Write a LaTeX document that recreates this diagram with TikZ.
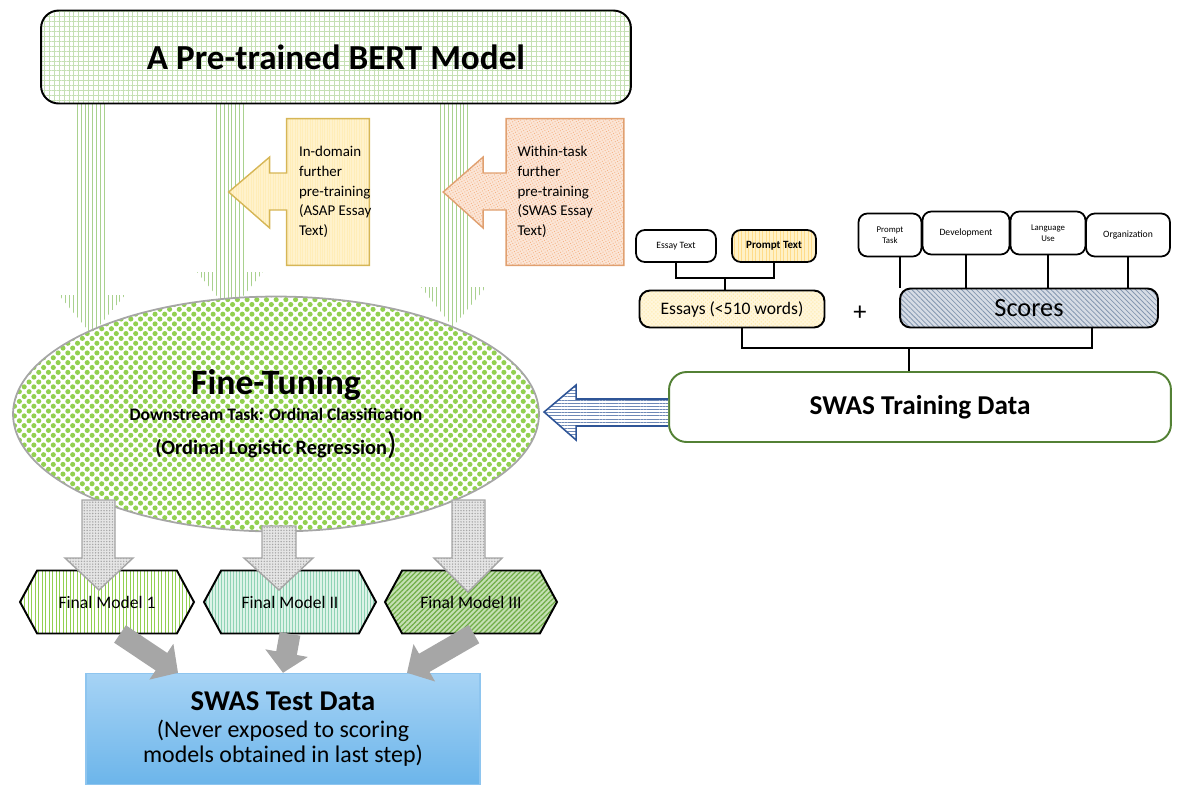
\documentclass[tikz,border=0pt]{standalone}
\usepackage{fontspec}
\setmainfont{Carlito}
\usetikzlibrary{positioning,calc,arrows.meta,patterns.meta,shapes.geometric,shapes.symbols,backgrounds}

\definecolor{gridgreen}{HTML}{C5E0B4}
\definecolor{stripegreen}{HTML}{A9D18E}
\definecolor{leafgreen}{HTML}{92D050}
\definecolor{darkleaf}{HTML}{70AD47}
\definecolor{mintfill}{HTML}{DDF3E8}
\definecolor{mintline}{HTML}{8FD3B5}
\definecolor{paleyellow}{HTML}{FFF2CC}
\definecolor{goldline}{HTML}{D6B656}
\definecolor{butter}{HTML}{FFE699}
\definecolor{palepeach}{HTML}{FBE5D6}
\definecolor{peachdot}{HTML}{F4B183}
\definecolor{peachline}{HTML}{E0A070}
\definecolor{slatefill}{HTML}{D6DCE5}
\definecolor{slateline}{HTML}{8497B0}
\definecolor{navyline}{HTML}{2F5597}
\definecolor{forest}{HTML}{538135}
\definecolor{skytop}{HTML}{A6D3F5}
\definecolor{skybottom}{HTML}{6CB5EA}
\definecolor{skyline}{HTML}{8EC5EF}
\definecolor{stone}{HTML}{A6A6A6}

\begin{document}
\begin{tikzpicture}[
    x=0.02cm, y=-0.02cm,
    rbox/.style={rectangle, rounded corners=6pt, draw=black, line width=1.1pt, align=center, inner sep=0pt},
    tinybox/.style={rbox, rounded corners=5pt, line width=1pt, minimum height=0.86cm, font=\fontsize{5.5}{6.4}\selectfont},
    brk/.style={line width=1.3pt},
    greenarrow/.style={pattern={Lines[angle=90, distance=2.2pt, line width=0.5pt]}, pattern color=stripegreen},
    callout/.style={align=left, inner sep=0pt, anchor=north west, font=\fontsize{8.5}{11.3}\selectfont},
    grayarrow/.style={draw=stone, line width=0.8pt, preaction={fill=gray!20}, pattern={Dots[distance=1.6pt, radius=0.45pt]}, pattern color=gray!70},
    hexa/.style={signal, signal to=east and west, signal pointer angle=123, draw=black, line width=1.1pt, minimum width=3.44cm, minimum height=1.26cm, inner sep=0pt, font=\fontsize{10}{12}\selectfont},
    link/.style={draw=stone, line width=0.42cm, -{Triangle[length=0.4cm, width=0.84cm]}}
]
\useasboundingbox (0,0) rectangle (1177,789);

% Nodes
\node (bert) [rbox, rounded corners=10pt, minimum width=11.8cm, minimum height=1.86cm,
    preaction={fill=white}, pattern={Hatch[distance=2.8pt, line width=0.4pt]}, pattern color=gridgreen,
    font=\fontsize{20}{24}\selectfont\bfseries] at (336,57) {A Pre-trained BERT Model};

\node (indomain) [minimum width=1.64cm, minimum height=2.92cm] at (328,192) {};
\node (withintask) [minimum width=2.34cm, minimum height=2.92cm] at (565,192) {};

\node (tune) [ellipse, draw=stone, line width=1pt, minimum width=10.52cm, minimum height=4.7cm,
    preaction={fill=white}, pattern={Dots[angle=45, distance=3.9pt, radius=1.45pt]}, pattern color=leafgreen,
    align=center, inner sep=0pt] at (276,414)
    {{\fontsize{20.3}{23}\selectfont\bfseries Fine-Tuning}\\[3pt]
     {\fontsize{10}{11}\selectfont\bfseries Downstream Task: Ordinal Classification}\\[5pt]
     {\fontsize{11.6}{13}\selectfont\bfseries (Ordinal Logistic Regression}{\fontsize{18}{13}\selectfont )}};

\node (etext) [tinybox, minimum width=1.6cm, minimum height=0.64cm] at (676,246) {Essay Text};
\node (ptext) [tinybox, minimum width=1.68cm, minimum height=0.64cm, preaction={fill=butter!55},
    pattern={Lines[angle=90, distance=2pt, line width=0.45pt]}, pattern color=butter!90!orange,
    font=\fontsize{6.3}{7}\selectfont\bfseries] at (774,246) {Prompt Text};
\node (essays) [rbox, minimum width=3.7cm, minimum height=0.74cm, preaction={fill=paleyellow!70},
    pattern={Dots[angle=45, distance=1.6pt, radius=0.4pt]}, pattern color=butter,
    font=\fontsize{10}{12}\selectfont] at (732,309) {Essays (<510 words)};
\node (plus) [font=\fontsize{15}{16}\selectfont] at (860,313) {+};

\node (ptask) [tinybox, minimum width=1.26cm, font=\fontsize{5}{6}\selectfont] at (890,235) {Prompt\\Task};
\node (dev) [tinybox, minimum width=1.74cm] at (966,233) {Development};
\node (lang) [tinybox, minimum width=1.5cm, font=\fontsize{5}{6}\selectfont] at (1048,233) {Language\\Use};
\node (org) [tinybox, minimum width=1.68cm] at (1128,235) {Organization};
\node (scores) [rbox, minimum width=5.16cm, minimum height=0.78cm, preaction={fill=slatefill},
    pattern={Lines[angle=-45, distance=2pt, line width=0.45pt]}, pattern color=slateline,
    font=\fontsize{15}{17}\selectfont] at (1029,308) {Scores};

\node (train) [rbox, rounded corners=10pt, draw=forest, minimum width=10.04cm, minimum height=1.4cm,
    fill=white, font=\fontsize{15.5}{18}\selectfont\bfseries] at (920,407) {SWAS Training Data};

\node (fm1) [hexa, minimum width=3.48cm, preaction={fill=white},
    pattern={Lines[angle=90, distance=2pt, line width=0.55pt]}, pattern color=leafgreen] at (107,602) {Final Model 1};
\node (fm2) [hexa, preaction={fill=mintfill},
    pattern={Lines[angle=90, distance=1.7pt, line width=0.4pt]}, pattern color=mintline] at (290,602) {Final Model II};
\node (fm3) [hexa, preaction={fill=gridgreen},
    pattern={Lines[angle=45, distance=2pt, line width=0.7pt]}, pattern color=darkleaf] at (471,602) {Final Model III};

\node (test) [rectangle, draw=skyline, line width=0.8pt, top color=skytop, bottom color=skybottom,
    minimum width=7.88cm, minimum height=2.22cm, align=center, font=\fontsize{13.6}{14.4}\selectfont] at (283,729)
    {{\fontsize{16.3}{18}\selectfont\bfseries SWAS Test Data}\\[1pt]
     (Never exposed to scoring\\models obtained in last step)};

% Callout texts
\node (indomaintext) [callout] at ($(indomain.north west)+(12,27)$)
    {In-domain\\further\\pre-training\\(ASAP Essay\\Text)};
\node (withintasktext) [callout] at ($(withintask.north west)+(11,27)$)
    {Within-task\\further\\pre-training\\(SWAS Essay\\Text)};

% Arrows behind the boxes
\begin{scope}[on background layer]
\path[greenarrow] (76,100) -- (108,100) -- (108,295) -- (125,295) -- (92,335) -- (59,295) -- (76,295) -- cycle;
\path[greenarrow] (214,100) -- (246,100) -- (246,272) -- (263,272) -- (230,312) -- (197,272) -- (214,272) -- cycle;
\path[greenarrow] (438,100) -- (469,100) -- (469,287) -- (486,287) -- (453,327) -- (421,287) -- (438,287) -- cycle;

\draw[draw=goldline, line width=0.8pt, preaction={fill=paleyellow},
      pattern={Lines[angle=90, distance=1.4pt, line width=0.3pt]}, pattern color=butter!70]
    (indomain.north east) -- (indomain.north west) -- ($(indomain.west)+(0,-19)$)
    -- ($(indomain.west)+(-17,-19)$) -- ($(indomain.west)+(-17,-35)$) -- ($(indomain.west)+(-58,0)$)
    -- ($(indomain.west)+(-17,36)$) -- ($(indomain.west)+(-17,18)$) -- ($(indomain.west)+(0,18)$)
    -- (indomain.south west) -- (indomain.south east) -- cycle;
\draw[draw=peachline, line width=0.8pt, preaction={fill=palepeach},
      pattern={Dots[angle=30, distance=1.5pt, radius=0.35pt]}, pattern color=peachdot]
    (withintask.north east) -- (withintask.north west) -- ($(withintask.west)+(0,-19)$)
    -- ($(withintask.west)+(-23,-19)$) -- ($(withintask.west)+(-23,-35)$) -- ($(withintask.west)+(-63,0)$)
    -- ($(withintask.west)+(-23,36)$) -- ($(withintask.west)+(-23,18)$) -- ($(withintask.west)+(0,18)$)
    -- (withintask.south west) -- (withintask.south east) -- cycle;
\end{scope}

% Brackets
\coordinate (ej) at ($(etext.south)!0.5!(ptext.south)+(0,15)$);
\draw[brk] (etext.south) |- (ej) -| (ptext.south);
\draw[brk] (ej) -- (ej |- essays.north);
\draw[brk] ([xshift=0.2cm]ptask.south) -- ([xshift=0.2cm]ptask.south |- scores.north);
\foreach \n in {dev,lang,org}
    \draw[brk] (\n.south) -- (\n.south |- scores.north);
\coordinate (sj) at ($(train.north)+(-11,-23)$);
\draw[brk] ([xshift=0.2cm]essays.south) |- (sj) -| ([xshift=1.26cm]scores.south);
\draw[brk] (sj) -- (sj |- train.north);

% Training data into fine-tuning
\draw[draw=navyline, line width=0.9pt, preaction={fill=white},
      pattern={Lines[angle=0, distance=1.8pt, line width=0.5pt]}, pattern color=navyline!70]
    ($(train.west)+(0,-8)$) -- ($(train.west)+(-92,-8)$) -- ($(train.west)+(-92,-22)$)
    -- ($(train.west)+(-124,5)$) -- ($(train.west)+(-92,33)$) -- ($(train.west)+(-92,19)$)
    -- ($(train.west)+(0,19)$);

% Fine-tuning down to the final models
\path[grayarrow] (82,500) -- (115,500) -- (115,558) -- (133,558) -- (99,590) -- (65,558) -- (82,558) -- cycle;
\path[grayarrow] (262,526) -- (296,526) -- (296,558) -- (313,558) -- (279,590) -- (244,558) -- (262,558) -- cycle;
\path[grayarrow] (452,500) -- (485,500) -- (485,558) -- (502,558) -- (468,592) -- (434,558) -- (452,558) -- cycle;

% Final models to test data
\draw[link] ([xshift=0.26cm]fm1.south) -- ([xshift=-2.1cm]test.north);
\draw[link] (fm2.south) -- (test.north);
\draw[link] ([xshift=0.06cm]fm3.south) -- ([xshift=2.48cm]test.north);

\end{tikzpicture}
\end{document}
